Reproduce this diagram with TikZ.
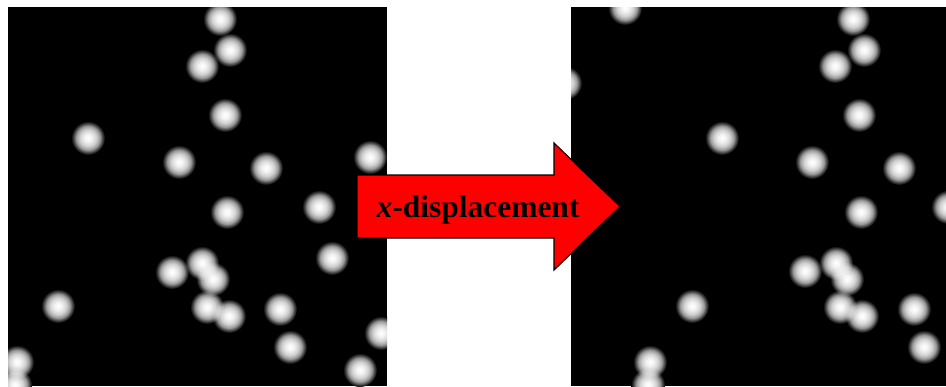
\documentclass[tikz,border=0pt]{standalone}
\usepackage{fontspec}
\setmainfont{Liberation Serif}
\pgfdeclareradialshading{dotshade}{\pgfpointorigin}{color(0bp)=(white); color(5bp)=(white!96!black); color(12bp)=(white!82!black); color(17.5bp)=(white!60!black); color(22bp)=(white!22!black); color(25bp)=(black); color(50bp)=(black)}
\tikzset{
  lightdot/.style={shading=dotshade},
  panel/.style={fill=black},
  bigarrow/.style={fill=red, draw=black, line width=1.2pt, line join=miter},
  arrowtext/.style={font=\fontsize{31.5}{36}\selectfont\bfseries, inner sep=0pt, anchor=base}
}
\begin{document}
\begin{tikzpicture}[x=1pt,y=-1pt]
\useasboundingbox (0,0) rectangle (946,386);
% left panel
\begin{scope}
\clip (8,7) rectangle (387,386);
\fill[panel] (8,7) rectangle (387,386);
\begin{scope}[blend mode=screen]
\foreach \a/\b in {220/19, 230/50, 202/66, 225/115, 88/138, 179/162, 266/168, 370/157,
  227/212, 319/207, 332/258, 172/272, 202/263, 213/279, 58/306, 207/307, 229/316,
  280/309, 290/347, 381/333, 17/362, 15/385, 360/370}
  \shade[lightdot] (\a,\b) circle (17pt);
\end{scope}
\end{scope}
% right panel
\begin{scope}
\clip (571,7) rectangle (946,386);
\fill[panel] (571,7) rectangle (946,386);
\begin{scope}[blend mode=screen]
\foreach \a/\b in {625/8, 853/19, 864/50, 835/66, 565/83, 859/115, 722/138, 812/162, 899/168,
  948/207, 861/212, 805/271, 836/263, 847/279, 692/306, 840/307, 862/316,
  914/309, 924/347, 650/362, 648/385}
  \shade[lightdot] (\a,\b) circle (17pt);
\end{scope}
\end{scope}
% arrow
\draw[bigarrow] (357,175) -- (554,175) -- (554,143) -- (620,206.5) -- (554,270) -- (554,238) -- (357,238) -- cycle;
\node[arrowtext] (label) at (478,217) {\textit{x}-displacement};
\end{tikzpicture}
\end{document}
